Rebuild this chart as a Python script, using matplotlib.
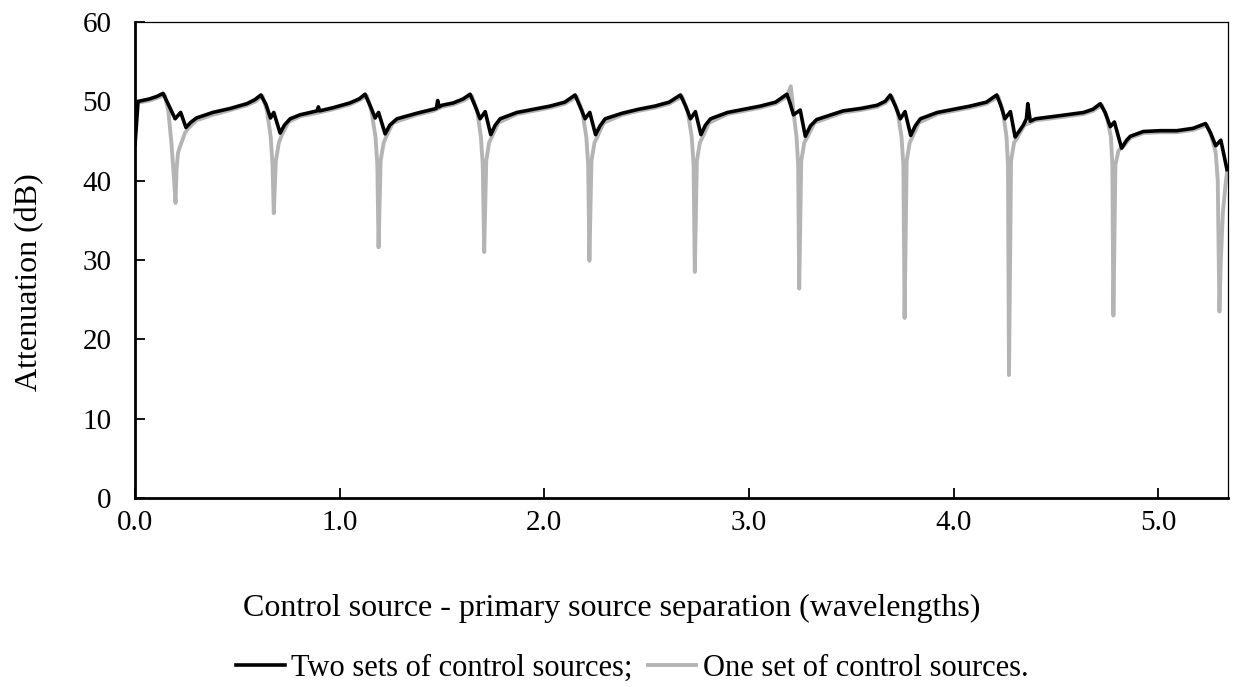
#!/usr/bin/env python3
"""Attenuation vs control/primary source separation, two vs one set of control sources."""
import matplotlib

matplotlib.use("Agg")
import matplotlib.pyplot as plt  # noqa: E402
from matplotlib.ticker import FormatStrFormatter  # noqa: E402

# Two sets of control sources (black): separation (wavelengths), attenuation (dB)
two_x = [0.000, 0.015, 0.035, 0.070, 0.105, 0.137, 0.165, 0.196, 0.223, 0.249,
         0.270, 0.300, 0.380, 0.465, 0.546, 0.585, 0.615, 0.640, 0.662, 0.678,
         0.709, 0.730, 0.758, 0.806, 0.890, 0.896, 0.902, 0.968, 1.050, 1.095,
         1.124, 1.150, 1.173, 1.190, 1.222, 1.245, 1.280, 1.377, 1.457, 1.472,
         1.479, 1.486, 1.499, 1.555, 1.603, 1.637, 1.662, 1.686, 1.711, 1.738,
         1.760, 1.784, 1.866, 1.946, 2.028, 2.100, 2.150, 2.175, 2.199, 2.222,
         2.250, 2.272, 2.297, 2.380, 2.460, 2.540, 2.610, 2.665, 2.690, 2.714,
         2.738, 2.765, 2.787, 2.812, 2.895, 2.975, 3.055, 3.130, 3.185, 3.200,
         3.217, 3.250, 3.275, 3.300, 3.330, 3.460, 3.545, 3.625, 3.665, 3.690,
         3.715, 3.739, 3.762, 3.790, 3.812, 3.837, 3.920, 4.000, 4.080, 4.160,
         4.210, 4.230, 4.250, 4.277, 4.300, 4.340, 4.355, 4.362, 4.374, 4.400,
         4.520, 4.635, 4.680, 4.716, 4.740, 4.765, 4.785, 4.820, 4.845, 4.863,
         4.927, 5.010, 5.090, 5.170, 5.230, 5.255, 5.280, 5.305, 5.335]
two_y = [44.5, 50.0, 50.1, 50.3, 50.6, 51.0, 49.5, 47.8, 48.6, 46.7,
         47.3, 47.9, 48.6, 49.1, 49.7, 50.2, 50.8, 49.6, 47.9, 48.6,
         46.0, 47.0, 47.8, 48.3, 48.8, 49.3, 48.8, 49.2, 49.8, 50.3,
         50.9, 49.4, 47.9, 48.6, 45.9, 47.0, 47.8, 48.5, 49.0, 49.1,
         50.1, 49.3, 49.5, 49.8, 50.3, 50.9, 49.4, 47.8, 48.7, 45.8,
         47.0, 47.8, 48.6, 49.0, 49.4, 49.9, 50.8, 49.3, 47.8, 48.6,
         45.8, 46.9, 47.8, 48.5, 49.0, 49.4, 49.9, 50.8, 49.4, 47.8,
         48.7, 45.8, 47.0, 47.8, 48.6, 49.0, 49.4, 49.9, 50.9, 49.8,
         48.3, 48.9, 45.6, 46.9, 47.7, 48.8, 49.1, 49.5, 50.0, 50.8,
         49.4, 47.8, 48.7, 45.7, 46.9, 47.8, 48.6, 49.0, 49.4, 49.9,
         50.8, 49.5, 47.8, 48.7, 45.5, 47.0, 47.8, 49.7, 47.5, 47.8,
         48.2, 48.6, 49.0, 49.7, 48.6, 46.8, 47.4, 44.1, 45.1, 45.6,
         46.2, 46.3, 46.3, 46.6, 47.2, 46.0, 44.4, 45.1, 41.4]

# One set of control sources (grey)
one_x = [0.000, 0.030, 0.070, 0.105, 0.145, 0.163, 0.178, 0.190, 0.198, 0.203,
         0.210, 0.220, 0.244, 0.260, 0.300, 0.380, 0.465, 0.546, 0.590, 0.622,
         0.645, 0.663, 0.672, 0.678, 0.688, 0.703, 0.718, 0.750, 0.806, 0.900,
         0.968, 1.050, 1.100, 1.132, 1.155, 1.175, 1.184, 1.190, 1.200, 1.215,
         1.230, 1.260, 1.377, 1.457, 1.499, 1.555, 1.605, 1.645, 1.672, 1.690,
         1.699, 1.706, 1.716, 1.730, 1.745, 1.775, 1.866, 1.946, 2.028, 2.100,
         2.158, 2.185, 2.205, 2.214, 2.220, 2.230, 2.245, 2.260, 2.290, 2.380,
         2.460, 2.540, 2.610, 2.673, 2.700, 2.720, 2.729, 2.735, 2.745, 2.760,
         2.775, 2.805, 2.895, 2.975, 3.055, 3.130, 3.185, 3.204, 3.218, 3.232,
         3.240, 3.245, 3.255, 3.270, 3.285, 3.320, 3.460, 3.545, 3.625, 3.665,
         3.698, 3.725, 3.745, 3.754, 3.760, 3.770, 3.785, 3.800, 3.830, 3.920,
         4.000, 4.080, 4.160, 4.218, 4.240, 4.258, 4.265, 4.270, 4.280, 4.295,
         4.310, 4.345, 4.400, 4.520, 4.635, 4.680, 4.724, 4.750, 4.768, 4.775,
         4.780, 4.790, 4.805, 4.825, 4.863, 4.927, 5.010, 5.090, 5.170, 5.238,
         5.260, 5.280, 5.290, 5.298, 5.305, 5.315, 5.328, 5.335]
one_y = [50.0, 49.9, 50.1, 50.4, 50.8, 48.8, 44.7, 40.5, 37.2, 41.4,
         43.5, 44.3, 46.0, 46.6, 47.6, 48.3, 48.9, 49.5, 50.0, 50.7,
         48.8, 45.5, 42.0, 35.9, 42.5, 44.8, 45.8, 47.4, 48.1, 48.6,
         49.0, 49.6, 50.2, 50.7, 48.8, 45.5, 42.0, 31.6, 42.5, 44.8,
         45.7, 47.3, 48.3, 48.8, 49.3, 49.6, 50.1, 50.7, 48.8, 45.5,
         42.0, 31.0, 42.5, 44.8, 45.6, 47.3, 48.4, 48.8, 49.2, 49.7,
         50.6, 48.8, 45.5, 42.0, 29.9, 42.5, 44.8, 45.6, 47.3, 48.3,
         48.8, 49.2, 49.7, 50.6, 48.8, 45.5, 42.0, 28.5, 42.5, 44.8,
         45.6, 47.3, 48.4, 48.8, 49.2, 49.7, 50.6, 51.9, 48.5, 45.5,
         42.0, 26.4, 42.5, 44.8, 45.5, 47.3, 48.6, 48.9, 49.3, 49.8,
         50.6, 48.8, 45.5, 42.0, 22.7, 42.5, 44.8, 45.6, 47.3, 48.4,
         48.8, 49.2, 49.7, 50.6, 48.8, 45.5, 42.0, 15.5, 42.5, 44.8,
         45.4, 47.0, 47.6, 48.0, 48.4, 48.8, 49.5, 47.8, 45.5, 42.0,
         23.0, 42.0, 43.8, 44.2, 45.4, 46.0, 46.1, 46.1, 46.4, 47.0,
         45.5, 43.5, 40.0, 23.5, 30.0, 36.0, 39.5, 41.0]

x_ticks = [0, 1, 2, 3, 4, 5]
y_ticks = [0, 10, 20, 30, 40, 50, 60]

BLACK = "#000000"
GREY = "#b4b4b4"


def main():
    plt.rcParams["font.family"] = ["Liberation Serif", "DejaVu Serif"]
    plt.rcParams["font.size"] = 20

    fig = plt.figure(figsize=(12.36, 6.87), dpi=100)
    ax = fig.add_axes([135 / 1236, 1 - 498 / 687, 1093 / 1236, 476 / 687])

    ax.plot(one_x, one_y, color=GREY, lw=2.8, label="One set of control sources.",
            solid_joinstyle="round")
    ax.plot(two_x, two_y, color=BLACK, lw=2.6, label="Two sets of control sources;",
            solid_joinstyle="round")

    ax.set_xlim(0, 5.34)
    ax.set_ylim(0, 60)
    ax.set_xticks(x_ticks)
    ax.set_yticks(y_ticks)
    ax.xaxis.set_major_formatter(FormatStrFormatter("%.1f"))
    ax.tick_params(axis="both", labelsize=21)
    ax.tick_params(axis="x", direction="in", length=7, width=1.3, pad=9)
    ax.tick_params(axis="y", direction="in", length=7, width=1.3, pad=17)

    for side in ("left", "bottom"):
        ax.spines[side].set_linewidth(2.0)
    for side in ("top", "right"):
        ax.spines[side].set_linewidth(0.9)

    fig.text(30 / 1236, 1 - 282 / 687, "Attenuation (dB)", rotation=90,
             ha="center", va="center", fontsize=23)
    fig.text(612 / 1236, 1 - 608 / 687,
             "Control source - primary source separation (wavelengths)",
             ha="center", va="center", fontsize=23)

    h, lab = ax.get_legend_handles_labels()
    fig.legend(h[::-1], lab[::-1], loc="center", bbox_to_anchor=(632 / 1236, 1 - 668 / 687),
               ncol=2, frameon=False, fontsize=22, handlelength=1.6, handletextpad=0.2,
               columnspacing=0.5, borderpad=0)

    fig.savefig("out.png", dpi=100)
    plt.close(fig)


if __name__ == "__main__":
    main()
